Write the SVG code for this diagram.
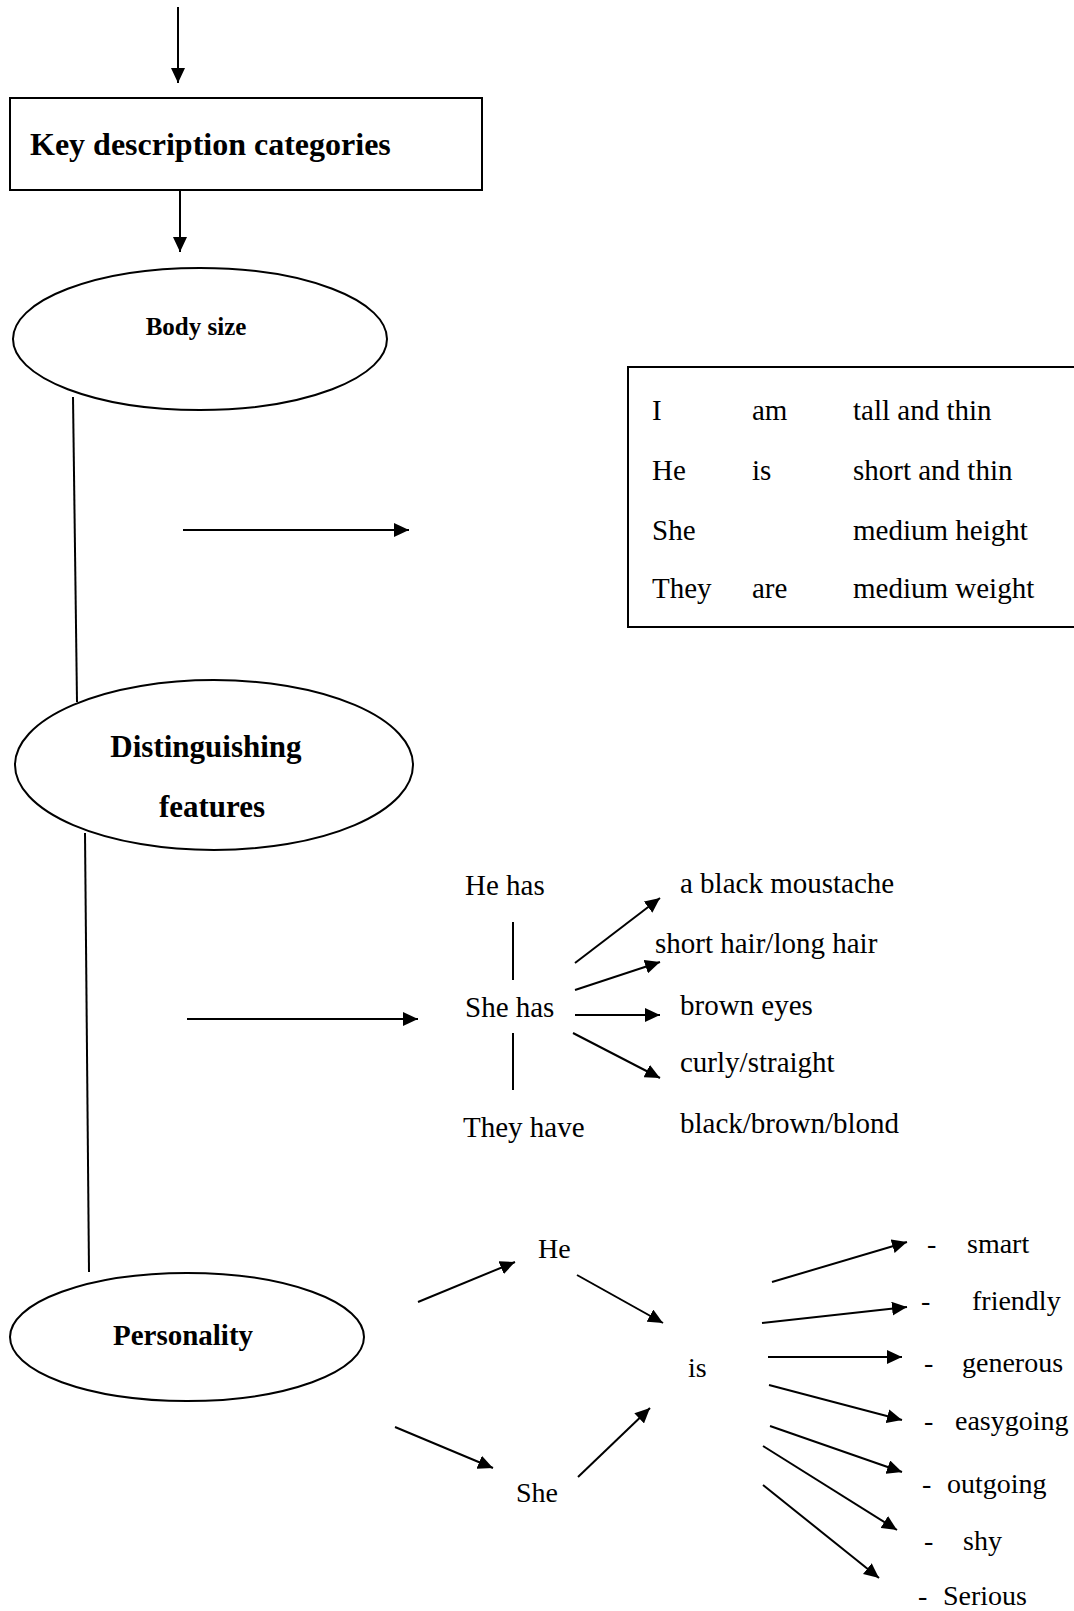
<svg xmlns="http://www.w3.org/2000/svg" width="1074" height="1611" viewBox="0 0 1074 1611">
<style>
.shape{fill:#fff;stroke:#000;stroke-width:2}
.ln{stroke:#000;stroke-width:2;fill:none}
.arr{stroke:#000;stroke-width:2;fill:none;marker-end:url(#ah)}
.hd{font-family:"Liberation Serif","Times New Roman",serif;font-weight:bold;fill:#000}
.tx{font-family:"Liberation Serif","Times New Roman",serif;font-size:29px;fill:#000}
.px{font-family:"Liberation Serif","Times New Roman",serif;font-size:28px;fill:#000}
</style>
<defs>
<marker id="ah" markerUnits="userSpaceOnUse" markerWidth="16" markerHeight="14" refX="15" refY="7" orient="auto">
<path d="M0,0 L15,7 L0,14 Z" fill="#000"/>
</marker>
</defs>
<rect width="1074" height="1611" fill="#fff"/>

<g id="connectors">
<line class="arr" x1="178" y1="7" x2="178" y2="83"/>
<line class="arr" x1="180" y1="190" x2="180" y2="252"/>
<line class="ln" x1="73" y1="397" x2="77" y2="702"/>
<line class="ln" x1="85" y1="833" x2="89" y2="1272"/>
<line class="arr" x1="183" y1="530" x2="409" y2="530"/>
<line class="arr" x1="187" y1="1019" x2="418" y2="1019"/>
<line class="ln" x1="513" y1="922" x2="513" y2="980"/>
<line class="ln" x1="513" y1="1033" x2="513" y2="1090"/>
<line class="arr" x1="575" y1="963" x2="660" y2="898"/>
<line class="arr" x1="575" y1="990" x2="660" y2="962"/>
<line class="arr" x1="575" y1="1015" x2="660" y2="1015"/>
<line class="arr" x1="573" y1="1033" x2="660" y2="1078"/>
<line class="arr" x1="418" y1="1302" x2="515" y2="1262"/>
<line class="arr" x1="577" y1="1275" x2="663" y2="1323"/>
<line class="arr" x1="395" y1="1427" x2="493" y2="1468"/>
<line class="arr" x1="578" y1="1477" x2="650" y2="1408"/>
<line class="arr" x1="772" y1="1282" x2="907" y2="1242"/>
<line class="arr" x1="762" y1="1323" x2="907" y2="1307"/>
<line class="arr" x1="768" y1="1357" x2="902" y2="1357"/>
<line class="arr" x1="769" y1="1385" x2="902" y2="1420"/>
<line class="arr" x1="770" y1="1426" x2="902" y2="1472"/>
<line class="arr" x1="763" y1="1446" x2="897" y2="1530"/>
<line class="arr" x1="763" y1="1485" x2="879" y2="1578"/>
</g>

<g id="key-categories">
<rect class="shape" x="10" y="98" width="472" height="92"/>
<text class="hd" x="30" y="155" font-size="32">Key description categories</text>
</g>

<g id="body-size">
<ellipse class="shape" cx="200" cy="339" rx="187" ry="71"/>
<text class="hd" x="196" y="335" font-size="25" text-anchor="middle">Body size</text>
</g>

<g id="body-size-table">
<rect class="shape" x="628" y="367" width="460" height="260"/>
<text class="tx" x="652" y="420">I</text>
<text class="tx" x="752" y="420">am</text>
<text class="tx" x="853" y="420">tall and thin</text>
<text class="tx" x="652" y="480">He</text>
<text class="tx" x="752" y="480">is</text>
<text class="tx" x="853" y="480">short and thin</text>
<text class="tx" x="652" y="540">She</text>
<text class="tx" x="853" y="540">medium height</text>
<text class="tx" x="652" y="598">They</text>
<text class="tx" x="752" y="598">are</text>
<text class="tx" x="853" y="598">medium weight</text>
</g>

<g id="distinguishing-features">
<ellipse class="shape" cx="214" cy="765" rx="199" ry="85"/>
<text class="hd" x="206" y="757" font-size="31" text-anchor="middle">Distinguishing</text>
<text class="hd" x="212" y="817" font-size="31" text-anchor="middle">features</text>
</g>

<g id="subjects-has">
<text class="tx" x="465" y="895">He has</text>
<text class="tx" x="465" y="1017">She has</text>
<text class="tx" x="463" y="1137">They have</text>
</g>

<g id="features-list">
<text class="tx" x="680" y="893">a black moustache</text>
<text class="tx" x="655" y="953">short hair/long hair</text>
<text class="tx" x="680" y="1015">brown eyes</text>
<text class="tx" x="680" y="1072">curly/straight</text>
<text class="tx" x="680" y="1133">black/brown/blond</text>
</g>

<g id="personality">
<ellipse class="shape" cx="187" cy="1337" rx="177" ry="64"/>
<text class="hd" x="183" y="1345" font-size="29" text-anchor="middle">Personality</text>
</g>

<g id="subjects-is">
<text class="px" x="538" y="1258">He</text>
<text class="px" x="688" y="1377">is</text>
<text class="px" x="516" y="1502">She</text>
</g>

<g id="traits-list">
<text class="px" y="1253"><tspan x="927">-</tspan><tspan x="967">smart</tspan></text>
<text class="px" y="1310"><tspan x="921">-</tspan><tspan x="972">friendly</tspan></text>
<text class="px" y="1372"><tspan x="924">-</tspan><tspan x="962">generous</tspan></text>
<text class="px" y="1430"><tspan x="924">-</tspan><tspan x="955">easygoing</tspan></text>
<text class="px" y="1493"><tspan x="922">-</tspan><tspan x="947">outgoing</tspan></text>
<text class="px" y="1550"><tspan x="924">-</tspan><tspan x="963">shy</tspan></text>
<text class="px" y="1605"><tspan x="918">-</tspan><tspan x="943">Serious</tspan></text>
</g>
</svg>
